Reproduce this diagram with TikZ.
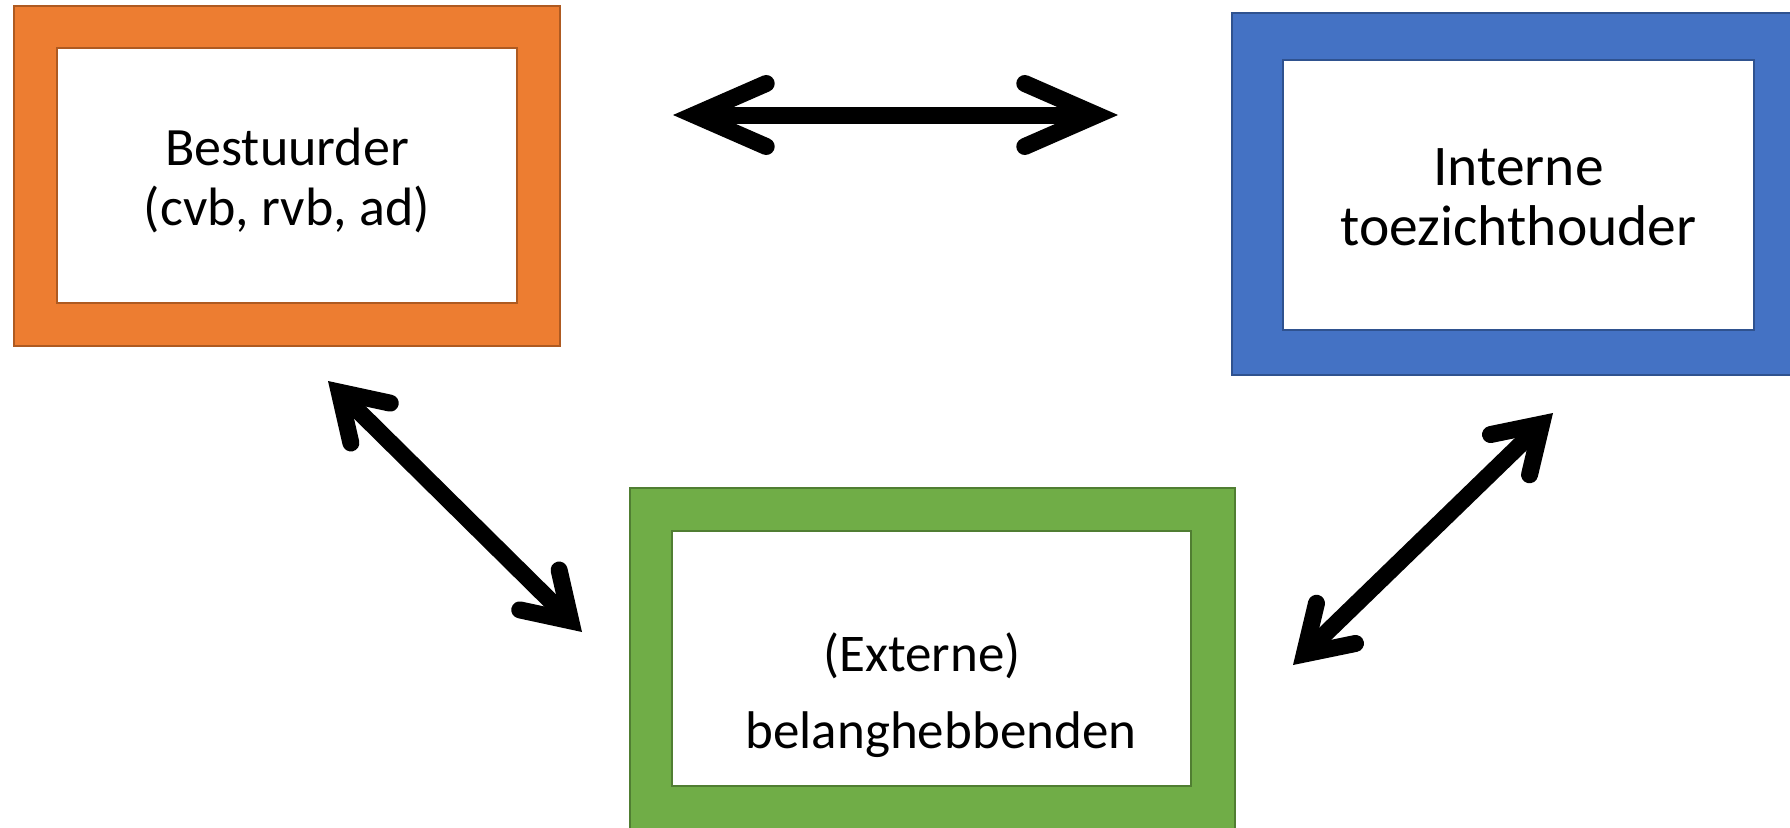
\documentclass[tikz,border=0pt]{standalone}
\usepackage{fontspec}
\setmainfont{Carlito}
\usetikzlibrary{arrows.meta}
\definecolor{orfill}{HTML}{ED7D31}
\definecolor{oredge}{HTML}{AE5A21}
\definecolor{blfill}{HTML}{4472C4}
\definecolor{bledge}{HTML}{2F528F}
\definecolor{grfill}{HTML}{70AD47}
\definecolor{gredge}{HTML}{507E32}
\tikzset{
  outerbox/.style={draw=#1edge, fill=#1fill, line width=1.5pt},
  innerbox/.style={draw=#1edge, fill=white, line width=1.5pt},
  lbl/.style={align=center, inner sep=0pt, font=\fontsize{54}{60}\selectfont},
  barbh/.tip={Straight Barb[length=72pt, width=63pt, line cap=round, line join=miter]},
  barbd/.tip={Straight Barb[length=44pt, width=56pt, line cap=round, line join=miter]},
  dblh/.style={line width=17pt, barbh-barbh},
  dbld/.style={line width=17pt, barbd-barbd}
}
\begin{document}
\begin{tikzpicture}[x=1pt, y=-1pt]
\clip (0,0) rectangle (1790,827);
\fill[white] (0,0) rectangle (1790,827);
% Orange
\draw[outerbox=or] (14,6) rectangle (560,346);
\node[innerbox=or, minimum width=460pt, minimum height=255pt, inner sep=0pt] (ob) at (287,175.5) {};
\node[lbl] (ot) at (287,180) {Bestuurder\\(cvb, rvb, ad)};
% Blue
\draw[outerbox=bl] (1232,13) rectangle (1805,375);
\node[innerbox=bl, minimum width=471pt, minimum height=270pt, inner sep=0pt] (bb) at (1518.5,195) {};
\node[lbl, font=\fontsize{57.5}{60}\selectfont] (bt) at (1518.5,197.5) {Interne\\toezichthouder};
% Green
\draw[outerbox=gr] (630,488) rectangle (1235,840);
\node[innerbox=gr, minimum width=519pt, minimum height=255pt, inner sep=0pt] (gb) at (931.5,658.5) {};
\node[lbl, font=\fontsize{53}{77}\selectfont] (gt) at (931.5,695.5) {(Externe)\hspace*{19pt}\\\hspace*{19pt}belanghebbenden};
% Arrows
\coordinate (h1) at (673,115);
\coordinate (h2) at (1118,115);
\coordinate (l1) at (328,381);
\coordinate (l2) at (582,632);
\coordinate (r1) at (1553,413);
\coordinate (r2) at (1293,665);
\draw[dblh] (h1) -- (h2);
\draw[dbld] (l1) -- (l2);
\draw[dbld] (r1) -- (r2);
\end{tikzpicture}
\end{document}
